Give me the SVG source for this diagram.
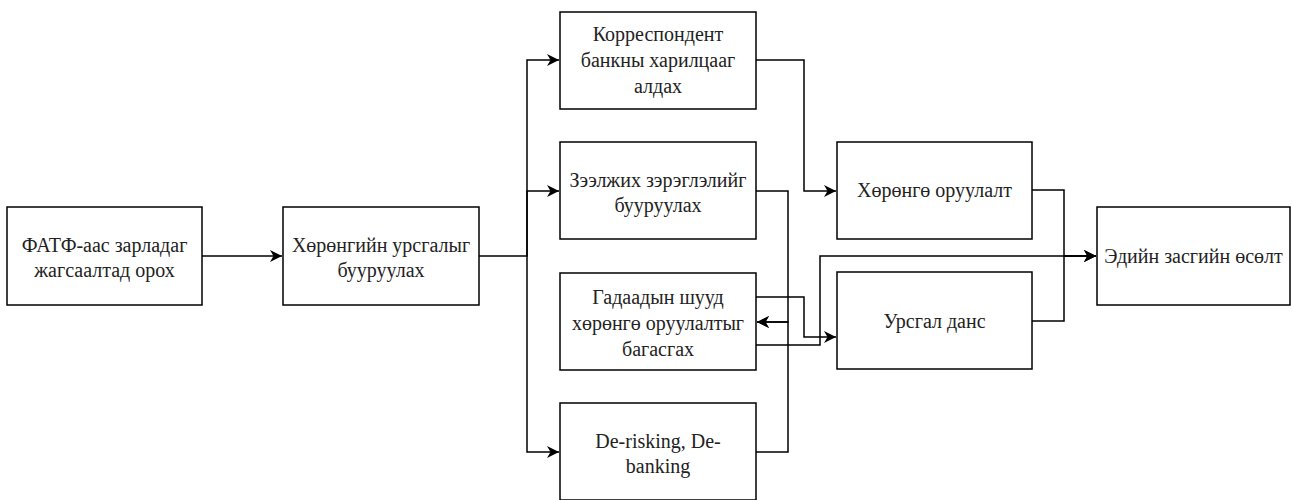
<svg xmlns="http://www.w3.org/2000/svg" width="1292" height="500" viewBox="0 0 1292 500">
<style>
.box{fill:#fff;stroke:#000;stroke-width:1.5}
.t{font-family:"Liberation Serif","Times New Roman",serif;font-size:20px;fill:#222;text-anchor:middle}
.c{fill:none;stroke:#000;stroke-width:1.5}
.a{marker-end:url(#ah)}
</style>
<defs>
<marker id="ah" markerWidth="14" markerHeight="12" refX="12" refY="6" orient="auto" markerUnits="userSpaceOnUse">
<path d="M0,0 L12,6 L0,12 L3.5,6 Z" fill="#000"/>
</marker>
</defs>
<rect width="1292" height="500" fill="#fff"/>
<g id="connectors">
<path class="c a" d="M202,256 H282"/>
<path class="c a" d="M479,256 H527 V60 H559"/>
<path class="c a" d="M527,256 V191 H559"/>
<path class="c a" d="M527,256 V452 H559"/>
<path class="c a" d="M756,60 H804 V191 H836"/>
<path class="c a" d="M756,297 H804 V337 H836"/>
<path class="c a" d="M756,191 H788 V322 H757"/>
<path class="c a" d="M756,452 H788 V322 H757"/>
<path class="c a" d="M756,345 H820 V256 H1096"/>
<path class="c a" d="M1032,190 H1064 V256 H1096"/>
<path class="c a" d="M1032,321 H1064 V256 H1096"/>
</g>
<g id="n1"><rect class="box" x="7" y="207" width="195" height="98"/>
<text class="t" x="104.5" y="252">ФАТФ-аас зарладаг</text><text class="t" x="104.5" y="277">жагсаалтад орох</text></g>
<g id="n2"><rect class="box" x="283" y="207" width="196" height="98"/>
<text class="t" x="381" y="252">Хөрөнгийн урсгалыг</text><text class="t" x="381" y="277">бууруулах</text></g>
<g id="n3"><rect class="box" x="560" y="12" width="196" height="97"/>
<text class="t" x="658" y="41">Корреспондент</text><text class="t" x="658" y="67">банкны харилцааг</text><text class="t" x="658" y="93">алдах</text></g>
<g id="n4"><rect class="box" x="560" y="142" width="196" height="97"/>
<text class="t" x="658" y="187">Зээлжих зэрэглэлийг</text><text class="t" x="658" y="212">бууруулах</text></g>
<g id="n5"><rect class="box" x="560" y="273" width="196" height="97"/>
<text class="t" x="658" y="304">Гадаадын шууд</text><text class="t" x="658" y="330">хөрөнгө оруулалтыг</text><text class="t" x="658" y="356">багасгах</text></g>
<g id="n6"><rect class="box" x="560" y="403" width="196" height="97"/>
<text class="t" x="658" y="448">De-risking, De-</text><text class="t" x="658" y="473">banking</text></g>
<g id="n7"><rect class="box" x="837" y="142" width="195" height="97"/>
<text class="t" x="934.5" y="197">Хөрөнгө оруулалт</text></g>
<g id="n8"><rect class="box" x="837" y="272" width="195" height="97"/>
<text class="t" x="934.5" y="328">Урсгал данс</text></g>
<g id="n9"><rect class="box" x="1097" y="207" width="193" height="98"/>
<text class="t" x="1193.5" y="263">Эдийн засгийн өсөлт</text></g>
</svg>
